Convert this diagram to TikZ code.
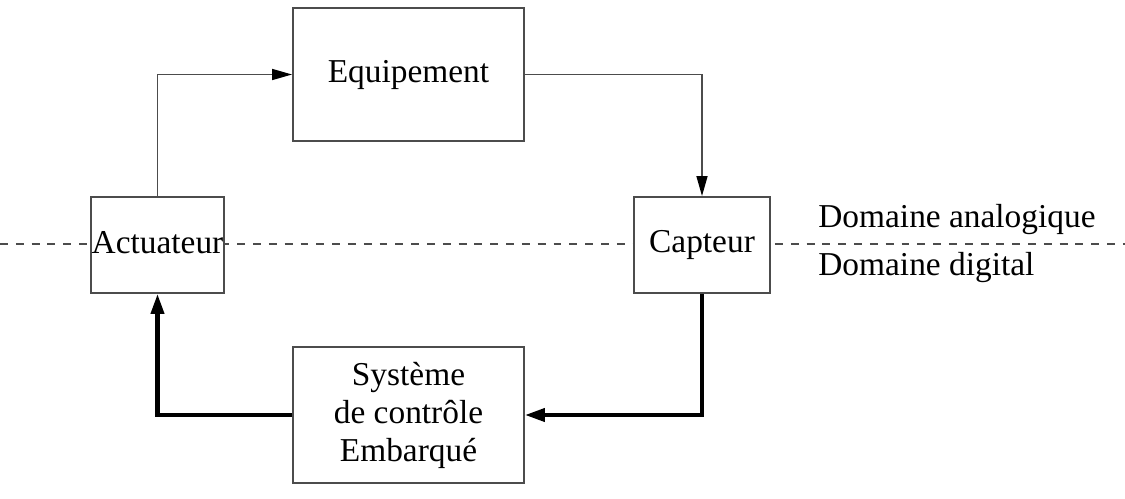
\documentclass[tikz,border=0pt]{standalone}
\usepackage{fontspec}
\setmainfont{Liberation Serif}
\usetikzlibrary{arrows.meta, positioning}

\begin{document}
\begin{tikzpicture}[
    arr/.style={-{Triangle[length=4mm, width=2.2mm, color=black]}, line width=0.9pt, draw=black!70},
    bigarr/.style={-{Triangle[length=4mm, width=2.6mm]}, line width=2.3pt},
    block/.style={rectangle, draw=black!70, line width=1.1pt, font=\fontsize{19}{21.6}\selectfont, align=center, inner sep=0pt},
    dom/.style={font=\fontsize{19}{21.6}\selectfont, anchor=west, inner sep=0pt},
]
\useasboundingbox (0,0) rectangle (22.5,-9.96);

% Limite analogique / digital
\draw[black!70, line width=0.8pt, dash pattern=on 4.5pt off 4.5pt] (0,-4.88) -- (22.5,-4.88);

% Blocs
\node[block, minimum width=4.62cm, minimum height=2.66cm] (equip) at (8.17,-1.49) {Equipement};
\node[block, minimum width=2.66cm, minimum height=1.92cm, fill=white] (act) at (3.15,-4.9) {};
\node[font=\fontsize{19}{21.6}\selectfont, inner sep=0pt] (actlbl) at ([yshift=0.05cm]act.center) {Actuateur};
\node[block, minimum width=2.72cm, minimum height=1.92cm, fill=white] (capt) at (14.04,-4.9) {Capteur};
\node[block, minimum width=4.62cm, minimum height=2.72cm] (sys) at (8.17,-8.3) {Syst\`eme\\de contr\^ole\\Embarqu\'e};

% Domaines
\node[dom] (ana) at (16.36,-4.4) {Domaine analogique};
\node[dom] (dig) at (16.36,-5.36) {Domaine digital};

% Boucle
\draw[arr] (act.north) |- (equip.west);
\draw[arr] (equip.east) -| (capt.north);
\draw[bigarr] (capt.south) |- (sys.east);
\draw[bigarr] (sys.west) -| (act.south);

\end{tikzpicture}
\end{document}
